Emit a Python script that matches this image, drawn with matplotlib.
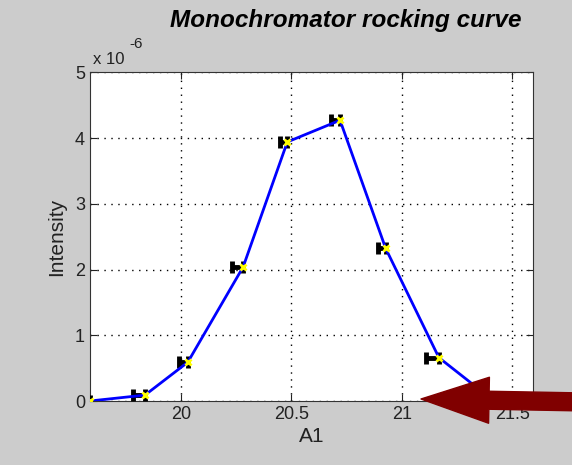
import matplotlib
matplotlib.use("Agg")
import matplotlib.pyplot as plt
from matplotlib.patches import FancyArrowPatch

# angle scan (A1) and measured intensity
a1 = [19.586, 19.836, 20.03, 20.281, 20.481, 20.72, 20.927, 21.168, 21.38, 21.595]
intensity = [0.0, 0.09e-6, 0.59e-6, 2.04e-6, 3.94e-6, 4.27e-6, 2.32e-6, 0.66e-6, 0.1e-6, 0.0]
# left-hand horizontal error on A1
a1_err = [0.03, 0.055, 0.04, 0.05, 0.035, 0.04, 0.035, 0.06, 0.05, 0.03]

x_ticks = [20, 20.5, 21, 21.5]
y_ticks = [0, 1e-6, 2e-6, 3e-6, 4e-6, 5e-6]
y_ticklabels = ["0", "1", "2", "3", "4", "5"]

BG = "#cccccc"
plt.rcParams["font.family"] = ["Liberation Sans", "DejaVu Sans"]

fig = plt.figure(figsize=(5.72, 4.65), dpi=100, facecolor=BG)
ax = fig.add_axes([0.157, 0.1376, 0.775, 0.707])
ax.set_facecolor("white")

ax.errorbar(a1, intensity, xerr=[a1_err, [0] * len(a1_err)], fmt="none",
            ecolor="black", elinewidth=3.5, capsize=4.5, capthick=3.5, zorder=3)
ax.plot(a1, intensity, color="#0000ff", linewidth=2, zorder=4)
ax.plot(a1, intensity, linestyle="none", marker="x", color="#ffff00",
        markersize=4, markeredgewidth=2, zorder=5)

ax.set_xlim(a1[0], a1[-1])
ax.set_ylim(0, 5e-6)
ax.set_xticks(x_ticks)
ax.set_xticklabels(["20", "20.5", "21", "21.5"])
ax.set_yticks(y_ticks)
ax.set_yticklabels(y_ticklabels)
ax.tick_params(direction="in", top=True, right=True, labelsize=13,
               colors="#222222", length=5)
ax.grid(True, linestyle=(0, (1, 4)), color="black", linewidth=1)
for s in ax.spines.values():
    s.set_color("#333333")

ax.set_xlabel("A1", fontsize=15, color="#222222", labelpad=3)
ax.set_ylabel("Intensity", fontsize=15, color="#222222", labelpad=6)

fig.text(0.163, 0.862, "x 10", fontsize=12, color="#222222")
fig.text(0.227, 0.897, "-6", fontsize=11, color="#222222")
fig.text(0.604, 0.955, "Monochromator rocking curve", fontsize=17.5,
         fontweight="bold", fontstyle="italic", ha="center", va="center")

# big pointer arrow (display pixels, 72/100 converts points to pixels)
arrow = FancyArrowPatch((640, 465 - 403), (421, 465 - 399), transform=None,
                        arrowstyle="simple,head_length=3.4,head_width=2.3,tail_width=0.9",
                        mutation_scale=20 * 0.72, color="#800000", zorder=10,
                        shrinkA=0, shrinkB=0)
fig.add_artist(arrow)

fig.savefig("out.png", dpi=100, facecolor=BG)
